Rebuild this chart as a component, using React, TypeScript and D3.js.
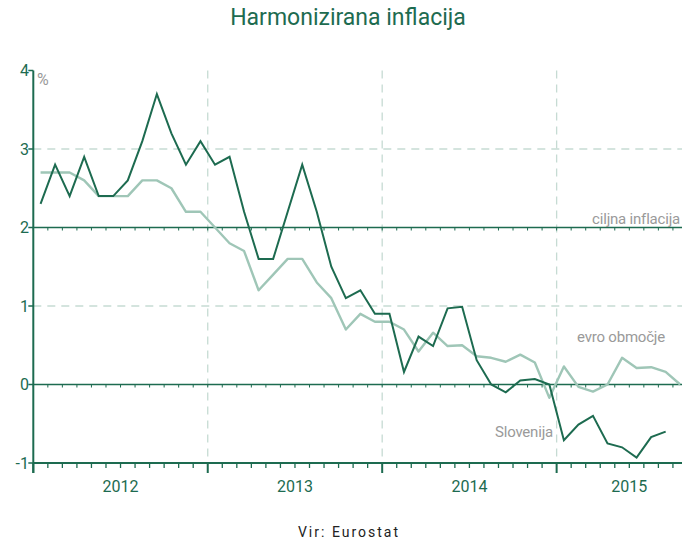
import React from "react";
import * as d3 from "d3";

// monthly values, Jan 2012 onwards
const slovenija = [
  2.3, 2.8, 2.4, 2.9, 2.4, 2.4, 2.6, 3.1, 3.7, 3.2, 2.8, 3.1,
  2.8, 2.9, 2.2, 1.6, 1.6, 2.2, 2.8, 2.2, 1.5, 1.1, 1.2, 0.9,
  0.9, 0.16, 0.61, 0.49, 0.97, 0.99, 0.31, 0.0, -0.1, 0.05, 0.07, 0.0,
  -0.71, -0.51, -0.4, -0.75, -0.8, -0.93, -0.67, -0.6,
];
const evroObmocje = [
  2.7, 2.7, 2.7, 2.6, 2.4, 2.4, 2.4, 2.6, 2.6, 2.5, 2.2, 2.2,
  2.0, 1.8, 1.7, 1.2, 1.4, 1.6, 1.6, 1.3, 1.1, 0.7, 0.9, 0.8,
  0.8, 0.7, 0.42, 0.66, 0.49, 0.5, 0.36, 0.34, 0.29, 0.38, 0.28, -0.17,
  0.23, -0.03, -0.09, 0.0, 0.34, 0.21, 0.22, 0.16, 0.0,
];
const years = ["2012", "2013", "2014", "2015"];
const yTicks = [4, 3, 2, 1, 0, -1];
const target = 2;
const monthCount = 46; // axis runs to end of Oct 2015

const width = 682;
const height = 542;
const dark = "#1d6b50";
const light = "#9fc6b7";
const grid = "#c6dbd3";
const grey = "#9a9a9a";
const labelFont = "Roboto, sans-serif";

export default function App() {
  const x = d3.scaleLinear().domain([0, monthCount]).range([33.3, 702]);
  const y = d3.scaleLinear().domain([-1, 4]).range([463, 70.5]);

  const line = d3
    .line<number>()
    .x((_, i) => x(i + 0.5))
    .y((d) => y(d));

  const months = d3.range(0, monthCount + 1);
  const x0 = x.range()[0];
  const xEnd = x.range()[1];

  return (
    <svg
      width={width}
      height={height}
      style={{ position: "absolute", left: 0, top: 0 }}
    >
      <text
        x={348}
        y={25}
        textAnchor="middle"
        fill={dark}
        style={{ font: "23px Roboto, sans-serif", fontWeight: 400 }}
      >
        Harmonizirana inflacija
      </text>

      {/* dashed grid */}
      {[3, 1].map((v) => (
        <line
          key={v}
          x1={x0}
          x2={width}
          y1={y(v)}
          y2={y(v)}
          stroke={grid}
          strokeWidth={1.3}
          strokeDasharray="8,6"
        />
      ))}
      {[1, 2, 3].map((k) => (
        <line
          key={k}
          x1={x(k * 12)}
          x2={x(k * 12)}
          y1={y(4)}
          y2={y(-1)}
          stroke={grid}
          strokeWidth={1.3}
          strokeDasharray="8,6"
        />
      ))}

      {/* target and zero lines */}
      {[target, 0].map((v) => (
        <g key={v}>
          <line x1={x0} x2={width} y1={y(v)} y2={y(v)} stroke={dark} strokeWidth={1.5} />
          {months.map((m) => (
            <line key={m} x1={x(m)} x2={x(m)} y1={y(v)} y2={y(v) + 3} stroke={dark} strokeWidth={1} />
          ))}
        </g>
      ))}

      <path d={line(evroObmocje) || ""} fill="none" stroke={light} strokeWidth={2.4} strokeLinejoin="round" />
      <path d={line(slovenija) || ""} fill="none" stroke={dark} strokeWidth={2} strokeLinejoin="miter" />

      {/* y axis */}
      <line x1={x0} x2={x0} y1={y(4)} y2={y(-1) + 10} stroke={dark} strokeWidth={2} />
      {yTicks.map((v) => (
        <g key={v}>
          <line x1={x0 - 5} x2={x0} y1={y(v)} y2={y(v)} stroke={dark} strokeWidth={1.5} />
          <text
            x={29}
            y={y(v)}
            dy="0.35em"
            textAnchor="end"
            fill={dark}
            style={{ font: `16px ${labelFont}` }}
          >
            {v < 0 ? `-${Math.abs(v)}` : v}
          </text>
        </g>
      ))}
      <text x={37} y={85} fill={grey} style={{ font: `16px ${labelFont}` }}>
        %
      </text>

      {/* x axis */}
      <line x1={x0} x2={width} y1={y(-1)} y2={y(-1)} stroke={dark} strokeWidth={2} />
      {months.map((m) => (
        <line
          key={m}
          x1={x(m)}
          x2={x(m)}
          y1={y(-1)}
          y2={y(-1) + (m % 12 === 0 ? 10 : 5)}
          stroke={dark}
          strokeWidth={m % 12 === 0 ? 2 : 1.3}
        />
      ))}
      {years.map((yr, i) => {
        const a = x(i * 12);
        const b = Math.min(x((i + 1) * 12), xEnd);
        return (
          <text
            key={yr}
            x={(a + b) / 2}
            y={492}
            textAnchor="middle"
            fill={dark}
            style={{ font: `16px ${labelFont}` }}
          >
            {yr}
          </text>
        );
      })}

      {/* series labels */}
      <text x={680} y={224} textAnchor="end" fill={grey} style={{ font: `15px ${labelFont}`, letterSpacing: "-0.2px" }}>
        ciljna inflacija
      </text>
      <text x={665} y={342} textAnchor="end" fill={grey} style={{ font: `15px ${labelFont}`, letterSpacing: "-0.2px" }}>
        evro območje
      </text>
      <text x={553} y={437} textAnchor="end" fill={grey} style={{ font: `15px ${labelFont}`, letterSpacing: "-0.2px" }}>
        Slovenija
      </text>

      <text
        x={349}
        y={537}
        textAnchor="middle"
        fill="#222"
        style={{ font: "14px Roboto, sans-serif", letterSpacing: "2px" }}
      >
        Vir: Eurostat
      </text>
    </svg>
  );
}
